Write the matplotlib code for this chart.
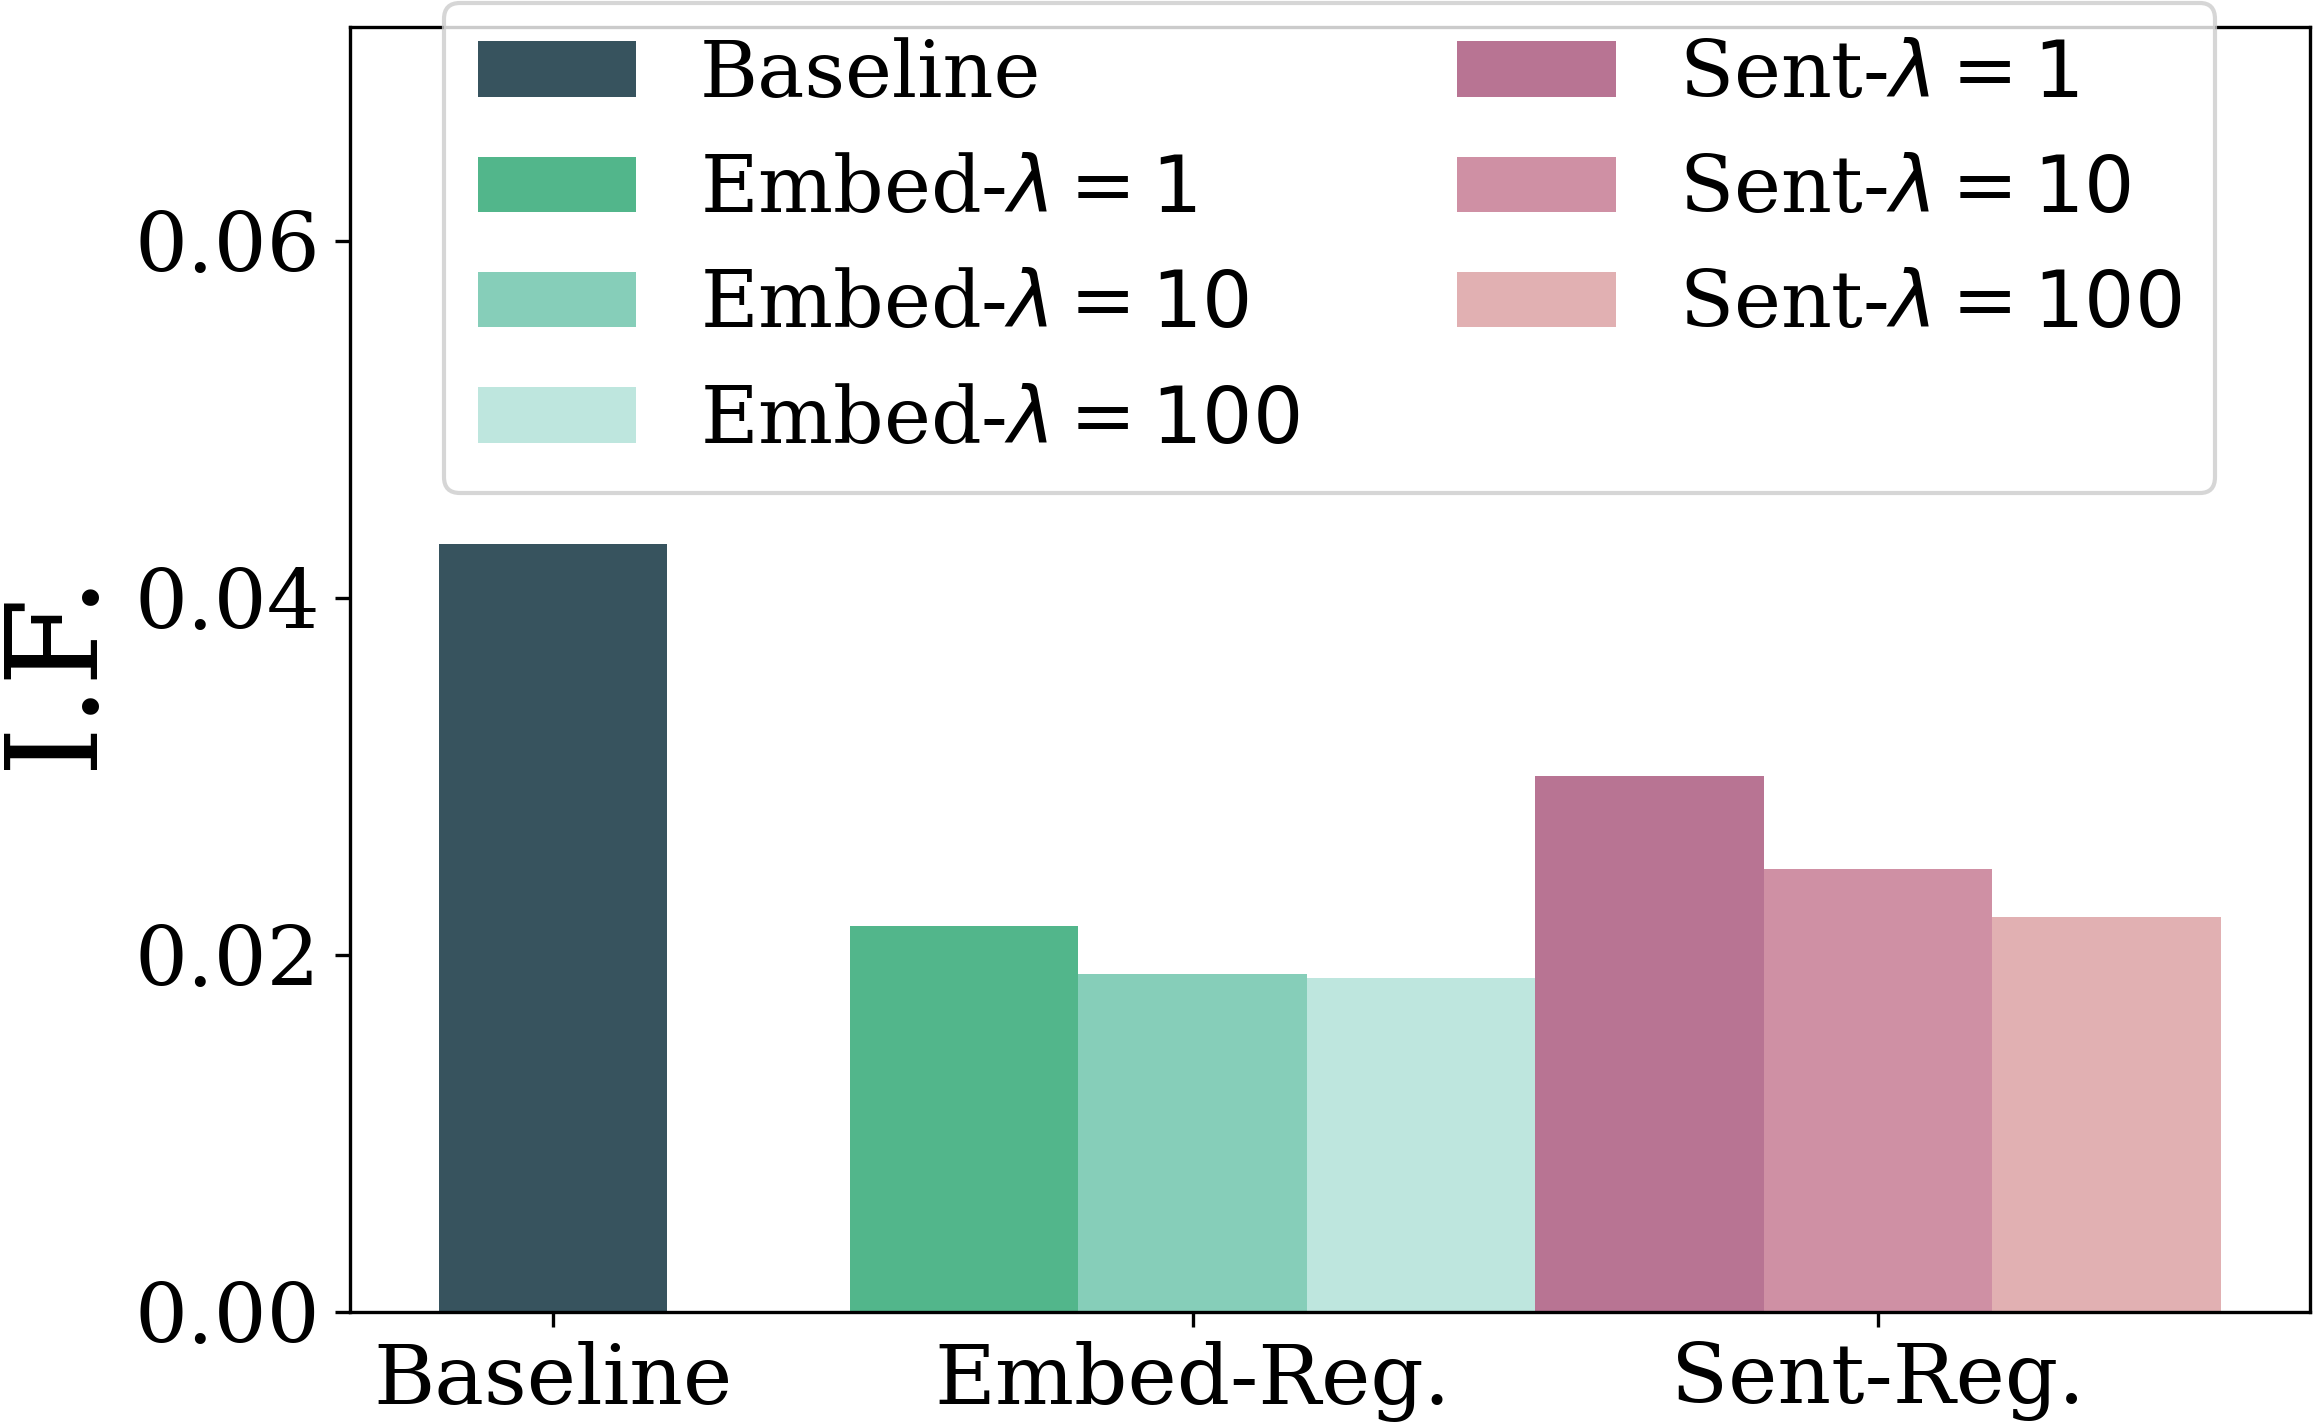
import matplotlib
matplotlib.use("Agg")
import matplotlib.pyplot as plt
import numpy as np

# ---- data ----
categories = ["Baseline", "Embed-Reg.", "Sent-Reg."]
baseline_value = [0.0430]
embed_values = [0.0216, 0.0189, 0.0187]
sent_values = [0.0300, 0.0248, 0.0221]
lambdas = ["1", "10", "100"]
baseline_label = "Baseline"
embed_labels = [r"Embed-$\lambda=%s$" % l for l in lambdas]
sent_labels = [r"Sent-$\lambda=%s$" % l for l in lambdas]
yticks = [0.00, 0.02, 0.04, 0.06]
ylabel = "I.F."

# ---- style ----
baseline_color = "#37535E"
embed_colors = ["#52B68B", "#86CEB9", "#BEE6DE"]
sent_colors = ["#B87493", "#CF90A4", "#E1B0B2"]

plt.rcParams["font.family"] = ["DejaVu Serif"]

W, H = 2313, 1423
dpi = 300
fig = plt.figure(figsize=(W / dpi, H / dpi), dpi=dpi)
ax = fig.add_axes([349.5 / W, 1 - 1311.5 / H, (2310 - 349.5) / W, (1311.5 - 26.7) / H])

width = 1 / 3
group_x = np.array([0.067, 1.0, 2.0])
offsets = np.array([-1, 0, 1]) * width

ax.bar(group_x[0], baseline_value[0], width, color=baseline_color,
       label=baseline_label, linewidth=0)
for i in range(3):
    ax.bar(group_x[1] + offsets[i], embed_values[i], width, color=embed_colors[i],
           label=embed_labels[i], linewidth=0)
for i in range(3):
    ax.bar(group_x[2] + offsets[i], sent_values[i], width, color=sent_colors[i],
           label=sent_labels[i], linewidth=0)

ax.set_ylim(0, 0.072)
ax.set_yticks(yticks)
ax.set_yticklabels(["%.2f" % v for v in yticks])
ax.set_xticks(group_x)
ax.set_xticklabels(categories)
ax.tick_params(axis="both", labelsize=20)
ax.set_ylabel(ylabel, fontsize=30.5)

leg = ax.legend(ncol=2, loc="upper center",
                bbox_to_anchor=(0.5, 1 + 24 / 1284.8),
                borderaxespad=0, fontsize=19, borderpad=0.43)

fig.savefig("out.png", dpi=dpi)
